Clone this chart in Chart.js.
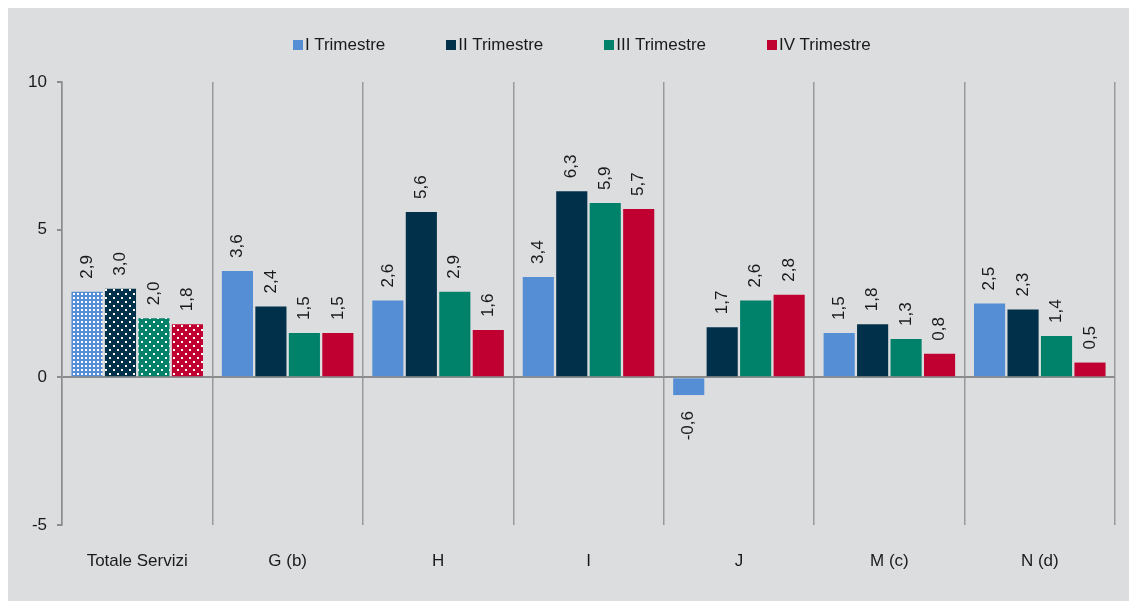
<!DOCTYPE html>
<html>
<head>
<meta charset="utf-8">
<script src="https://cdn.jsdelivr.net/npm/chart.js@4"></script>
<style>
  html, body { margin: 0; padding: 0; background: #ffffff; }
  .panel {
    position: absolute; left: 8px; top: 8px;
    width: 1121px; height: 593px;
    background: #dcdddf;
  }
  #chart { position: absolute; left: 0; top: 0; }
  .legend {
    position: absolute; left: 285px; top: 27px;
    display: flex; align-items: center;
    font: 17px "Liberation Sans", Arial, sans-serif;
    color: #1a1a1a; line-height: 20px;
  }
  .legend .item { display: flex; align-items: center; margin-right: 61px; }
  .legend .box { width: 10px; height: 10px; margin-right: 2px; }
</style>
</head>
<body>
<div class="panel">
  <canvas id="chart" width="1121" height="593"></canvas>
  <div class="legend" id="legend"></div>
</div>
<script>
  // Categories and quarterly values
  const categories = ["Totale Servizi", "G (b)", "H", "I", "J", "M (c)", "N (d)"];
  const seriesNames = ["I Trimestre", "II Trimestre", "III Trimestre", "IV Trimestre"];
  const trim1 = [2.9, 3.6, 2.6, 3.4, -0.6, 1.5, 2.5];
  const trim2 = [3.0, 2.4, 5.6, 6.3, 1.7, 1.8, 2.3];
  const trim3 = [2.0, 1.5, 2.9, 5.9, 2.6, 1.3, 1.4];
  const trim4 = [1.8, 1.5, 1.6, 5.7, 2.8, 0.8, 0.5];
  const yTicks = [-5, 0, 5, 10];

  const colors = ["#558ed5", "#00304a", "#00816a", "#c00030"];
  const axisGray = "#8c8c8c";
  const fontFamily = '"Liberation Sans", Arial, sans-serif';

  // dotted fill used for the "Totale Servizi" group
  function dotPattern(color, dense) {
    const c = document.createElement("canvas");
    const size = dense ? 4 : 8;
    c.width = size;
    c.height = size;
    const g = c.getContext("2d");
    g.fillStyle = color;
    g.fillRect(0, 0, size, size);
    g.fillStyle = "#ffffff";
    if (dense) {
      g.fillRect(1, 1, 2, 2);
    } else {
      g.fillRect(1, 1, 2, 2);
      g.fillRect(5, 5, 2, 2);
    }
    return g.createPattern(c, "repeat");
  }

  const values = [trim1, trim2, trim3, trim4];
  const datasets = values.map((data, i) => ({
    label: seriesNames[i],
    data: data,
    backgroundColor: data.map((_, j) => (j === 0 ? dotPattern(colors[i], i === 0) : colors[i])),
    borderWidth: 0,
    categoryPercentage: 0.89,
    barPercentage: 0.93,
  }));

  // legend above the plot
  const legendEl = document.getElementById("legend");
  seriesNames.forEach((name, i) => {
    const item = document.createElement("div");
    item.className = "item";
    const box = document.createElement("span");
    box.className = "box";
    box.style.background = colors[i];
    const txt = document.createElement("span");
    txt.textContent = name;
    item.appendChild(box);
    item.appendChild(txt);
    legendEl.appendChild(item);
  });

  // rotated value labels on each bar
  const valueLabels = {
    id: "valueLabels",
    afterDatasetsDraw(chart) {
      const ctx = chart.ctx;
      ctx.save();
      ctx.font = "17px " + fontFamily;
      ctx.fillStyle = "#1a1a1a";
      ctx.textBaseline = "middle";
      chart.data.datasets.forEach((ds, i) => {
        chart.getDatasetMeta(i).data.forEach((bar, j) => {
          const v = ds.data[j];
          const txt = v.toFixed(1).replace(".", ",");
          ctx.save();
          ctx.translate(bar.x, bar.y + (v < 0 ? 16 : -13));
          ctx.rotate(-Math.PI / 2);
          ctx.textAlign = v < 0 ? "right" : "left";
          ctx.fillText(txt, 0, 0);
          ctx.restore();
        });
      });
      ctx.restore();
    },
  };

  new Chart(document.getElementById("chart"), {
    type: "bar",
    data: { labels: categories, datasets: datasets },
    plugins: [valueLabels],
    options: {
      responsive: false,
      animation: false,
      layout: { padding: { top: 74, right: 14, bottom: 0, left: 0 } },
      plugins: {
        legend: { display: false },
        tooltip: { enabled: false },
      },
      scales: {
        x: {
          grid: {
            offset: true,
            color: "#9a9a9a",
            lineWidth: 1.5,
            drawTicks: false,
          },
          border: { display: false },
          ticks: {
            color: "#1a1a1a",
            font: { size: 17, family: fontFamily },
            padding: 26,
            maxRotation: 0,
          },
          afterFit: (scale) => { scale.height = 76; },
        },
        y: {
          min: yTicks[0],
          max: yTicks[yTicks.length - 1],
          afterBuildTicks: (scale) => { scale.ticks = yTicks.map((v) => ({ value: v })); },
          grid: {
            color: (c) => (c.tick && c.tick.value === 0 ? axisGray : "transparent"),
            lineWidth: 2,
            tickColor: axisGray,
            tickLength: 5,
          },
          border: { display: true, color: axisGray, width: 1.5 },
          ticks: {
            color: "#1a1a1a",
            font: { size: 17, family: fontFamily },
            padding: 10,
          },
          afterFit: (scale) => { scale.width = 54; },
        },
      },
    },
  });
</script>
</body>
</html>
